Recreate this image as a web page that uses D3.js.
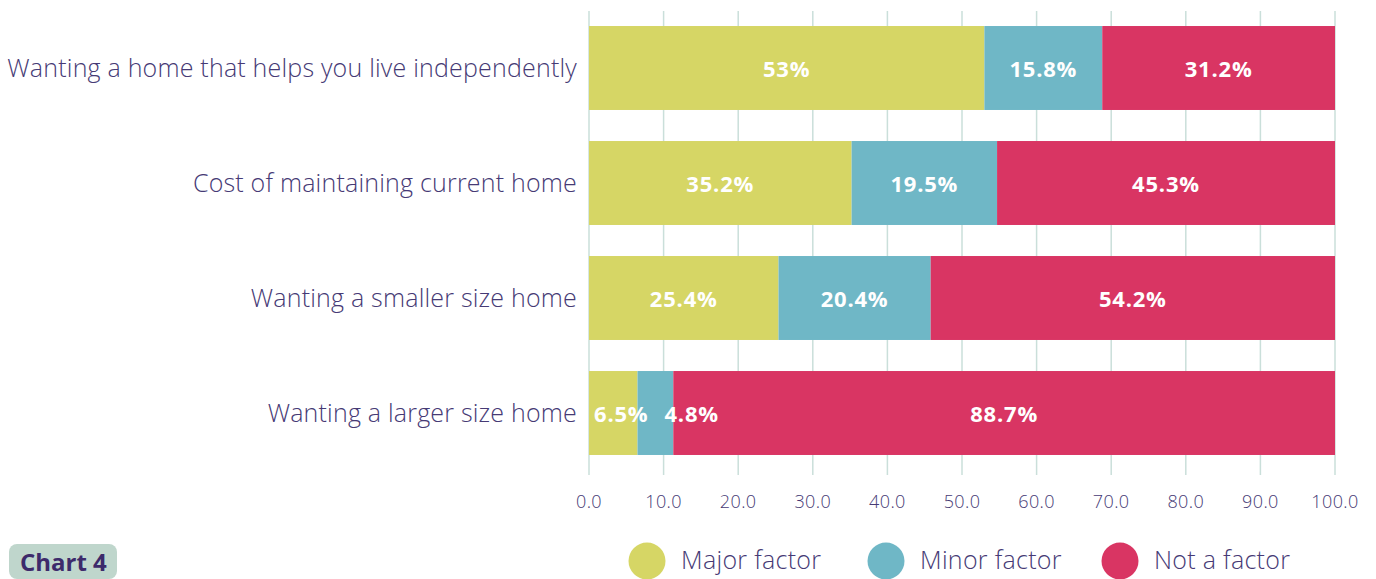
<!DOCTYPE html>
<html>
<head>
<meta charset="utf-8">
<script src="https://cdn.jsdelivr.net/npm/d3@7"></script>
<style>
  html, body { margin: 0; padding: 0; background: #fff; }
  svg { display: block; font-family: "Open Sans", Lato, sans-serif; }
</style>
</head>
<body>
<svg id="chart" width="1376" height="579"></svg>
<script>
// data
var categories = [
    'Wanting a home that helps you live independently',
    'Cost of maintaining current home',
    'Wanting a smaller size home',
    'Wanting a larger size home'
];
var seriesNames = ['Major factor', 'Minor factor', 'Not a factor'];
var majorValues = [53, 35.2, 25.4, 6.5];
var minorValues = [15.8, 19.5, 20.4, 4.8];
var notValues = [31.2, 45.3, 54.2, 88.7];
var xTicks = [0, 10, 20, 30, 40, 50, 60, 70, 80, 90, 100];

var colors = ['#d6d665', '#6fb7c6', '#d93563'],
    textColor = '#463a75',
    gridColor = '#cadfda';

var svg = d3.select('#chart'),
    x = d3.scaleLinear().domain([0, 100]).range([589, 1335]),
    y = d3.scaleBand().domain(categories).range([10.5, 470.5]).paddingInner(0.27).paddingOuter(0.135);

var rows = categories.map(function (c, i) {
    var vals = [majorValues[i], minorValues[i], notValues[i]], acc = 0;
    return vals.map(function (v, k) {
        var seg = {cat: c, key: k, v: v, x0: acc, x1: acc + v};
        acc += v;
        return seg;
    });
});

// gridlines
svg.append('g').selectAll('line').data(xTicks).enter().append('line')
    .attr('x1', function (d) { return x(d); })
    .attr('x2', function (d) { return x(d); })
    .attr('y1', 11).attr('y2', 475)
    .attr('stroke', gridColor).attr('stroke-width', 1.5);

// tick labels
svg.append('g').selectAll('text').data(xTicks).enter().append('text')
    .attr('x', function (d) { return x(d); })
    .attr('y', 508)
    .attr('text-anchor', 'middle')
    .attr('fill', textColor)
    .attr('font-size', 18)
    .attr('font-weight', 300)
    .attr('letter-spacing', 0.4)
    .text(function (d) { return d.toFixed(1); });

// bars
var rowG = svg.append('g').selectAll('g').data(rows).enter().append('g');
rowG.selectAll('rect').data(function (d) { return d; }).enter().append('rect')
    .attr('x', function (d) { return x(d.x0); })
    .attr('width', function (d) { return x(d.x1) - x(d.x0); })
    .attr('y', function (d) { return y(d.cat); })
    .attr('height', y.bandwidth())
    .attr('fill', function (d) { return colors[d.key]; });

// value labels, nudged right when they don't fit their segment
rowG.each(function (segs) {
    var g = d3.select(this), prevEnd = -Infinity;
    segs.forEach(function (d) {
        var t = g.append('text')
            .attr('y', y(d.cat) + y.bandwidth() / 2)
            .attr('dy', '0.4em')
            .attr('fill', '#fff')
            .attr('font-size', 22)
            .attr('font-weight', 700)
            .attr('letter-spacing', 0.8)
            .text(d.v + '%');
        var w = t.node().getComputedTextLength(),
            a = x(d.x0), b = x(d.x1),
            left = (a + b) / 2 - w / 2;
        if (w + 10 > b - a) {
            left = Math.max(a + 5, prevEnd + 16);
        }
        t.attr('x', left);
        prevEnd = left + w;
    });
});

// category labels
svg.append('g').selectAll('text').data(categories).enter().append('text')
    .attr('x', 577)
    .attr('y', function (d) { return y(d) + y.bandwidth() / 2; })
    .attr('dy', '0.36em')
    .attr('text-anchor', 'end')
    .attr('fill', textColor)
    .attr('font-size', 25)
    .attr('font-weight', 300)
    .attr('letter-spacing', 0.2)
    .text(function (d) { return d; });

// legend
var legendX = [647, 886, 1120];
var leg = svg.append('g').selectAll('g').data(seriesNames).enter().append('g')
    .attr('transform', function (d, i) { return 'translate(' + legendX[i] + ',561)'; });
leg.append('circle').attr('r', 18.5).attr('fill', function (d, i) { return colors[i]; });
leg.append('text')
    .attr('x', 34).attr('y', 8)
    .attr('fill', textColor)
    .attr('font-size', 25)
    .attr('font-weight', 300)
    .attr('letter-spacing', 0.3)
    .text(function (d) { return d; });

// badge
svg.append('rect').attr('x', 9).attr('y', 544).attr('width', 108).attr('height', 35).attr('rx', 8)
    .attr('fill', '#bfd6cc');
svg.append('text').attr('x', 20).attr('y', 571)
    .attr('fill', '#3d2a6b').attr('font-size', 24).attr('font-weight', 700)
    .text('Chart 4');
</script>
</body>
</html>
